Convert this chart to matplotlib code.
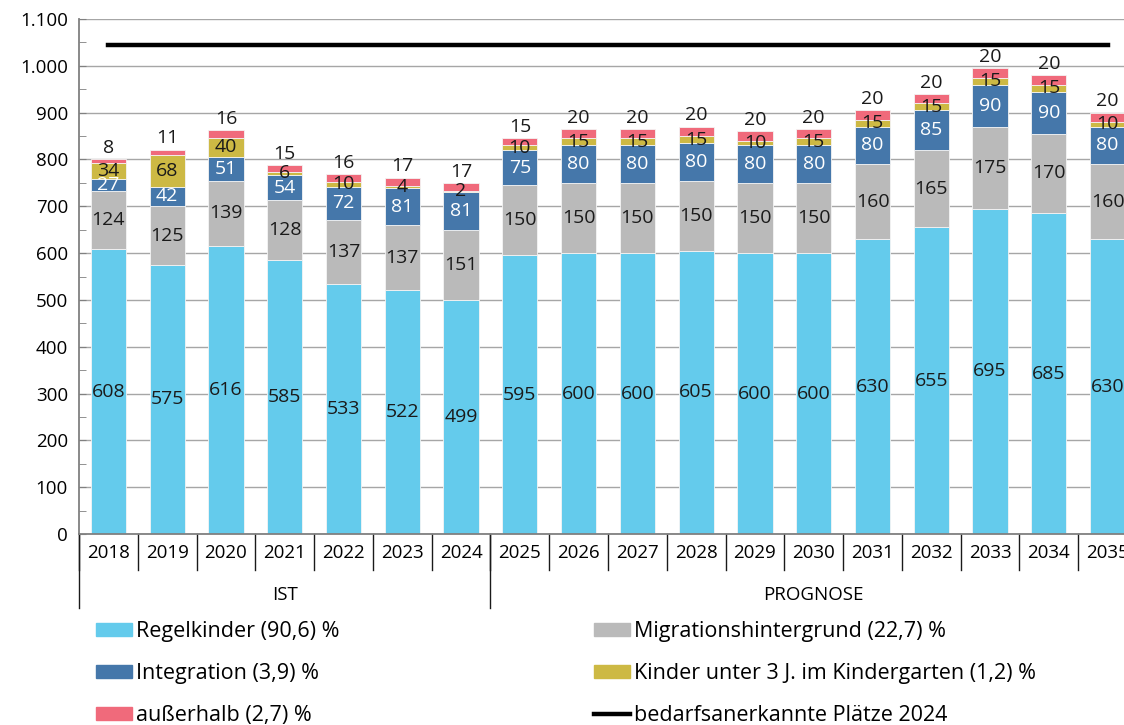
import numpy as np
import matplotlib
matplotlib.use("Agg")
import matplotlib.pyplot as plt
from matplotlib.ticker import MultipleLocator, FuncFormatter
from matplotlib.lines import Line2D
from matplotlib.patches import Patch

plt.rcParams['font.family'] = ['Open Sans', 'DejaVu Sans']

# Daten
years = ['2018', '2019', '2020', '2021', '2022', '2023', '2024', '2025', '2026',
         '2027', '2028', '2029', '2030', '2031', '2032', '2033', '2034', '2035']
regelkinder = [608, 575, 616, 585, 533, 522, 499, 595, 600, 600, 605, 600, 600, 630, 655, 695, 685, 630]
migration = [124, 125, 139, 128, 137, 137, 151, 150, 150, 150, 150, 150, 150, 160, 165, 175, 170, 160]
integration = [27, 42, 51, 54, 72, 81, 81, 75, 80, 80, 80, 80, 80, 80, 85, 90, 90, 80]
unter3 = [34, 68, 40, 6, 10, 4, 2, 10, 15, 15, 15, 10, 15, 15, 15, 15, 15, 10]
ausserhalb = [8, 11, 16, 15, 16, 17, 17, 15, 20, 20, 20, 20, 20, 20, 20, 20, 20, 20]
plaetze_2024 = 1045
groups = ['IST', 'PROGNOSE']
group_sizes = [7, 11]

series = [
    (regelkinder, 'Regelkinder (90,6) %', '#64cbec', '#1a1a1a'),
    (migration, 'Migrationshintergrund (22,7) %', '#bababa', '#1a1a1a'),
    (integration, 'Integration (3,9) %', '#4577aa', 'white'),
    (unter3, 'Kinder unter 3 J. im Kindergarten (1,2) %', '#cdb944', '#1a1a1a'),
    (ausserhalb, 'außerhalb (2,7) %', '#f06a7b', '#1a1a1a'),
]

fig = plt.figure(figsize=(11.24, 7.25), dpi=100)
ax = fig.add_axes([79 / 1124, 1 - 534 / 725, 1058 / 1124, 515 / 725])

x = np.arange(len(years))
bottom = np.zeros(len(years))
for i, (vals, name, col, tcol) in enumerate(series):
    vals = np.array(vals, dtype=float)
    ax.bar(x, vals, 0.6, bottom=bottom, color=col, edgecolor='#f4f4f4', linewidth=0.6, zorder=2)
    for xi, b, v in zip(x, bottom, vals):
        if i == len(series) - 1:
            # Wert über dem Balken
            ax.text(xi, b + v + 5, f'{int(v)}', ha='center', va='bottom', fontsize=14, color=tcol)
        else:
            ax.text(xi, b + v / 2, f'{int(v)}', ha='center', va='center', fontsize=14, color=tcol)
    bottom += vals

# Linie bedarfsanerkannte Plätze
ax.plot([x[0], x[-1]], [plaetze_2024, plaetze_2024], color='black', lw=3.2, zorder=3)

ax.set_ylim(0, 1100)
ax.set_xlim(-0.5, len(years) - 0.5)
ax.yaxis.set_major_locator(MultipleLocator(100))
ax.yaxis.set_minor_locator(MultipleLocator(50))
ax.yaxis.set_major_formatter(FuncFormatter(lambda v, p: f'{int(v):,}'.replace(',', '.')))
ax.tick_params(axis='y', which='both', direction='in', length=5, color='#808080', labelsize=13.5, pad=8)
ax.grid(axis='y', color='#a6a6a6', lw=1, zorder=0)
for s in ['top', 'right']:
    ax.spines[s].set_visible(False)
ax.spines['left'].set_color('#808080')
ax.spines['bottom'].set_color('#808080')
ax.spines['left'].set_linewidth(1.3)
ax.spines['bottom'].set_linewidth(1.3)

# zweistufige x-Achse
ax.set_xticks([])
trans = ax.get_xaxis_transform()
for xi, y in zip(x, years):
    ax.text(xi, -0.037, y, transform=trans, ha='center', va='center', fontsize=13.5, clip_on=False)
for b in np.arange(len(years) + 1) - 0.5:
    ax.plot([b, b], [0, -0.07], transform=trans, color='#1a1a1a', lw=1, clip_on=False)
start = -0.5
for g, n in zip(groups, group_sizes):
    ax.plot([start, start], [0, -0.144], transform=trans, color='#1a1a1a', lw=1, clip_on=False)
    ax.text(start + n / 2, -0.118, g, transform=trans, ha='center', va='center', fontsize=13.5, clip_on=False)
    start += n
ax.plot([start, start], [0, -0.144], transform=trans, color='#1a1a1a', lw=1, clip_on=False)

# Legende
handles = [Patch(color=series[0][2]), Patch(color=series[2][2]), Patch(color=series[4][2]),
           Patch(color=series[1][2]), Patch(color=series[3][2]),
           Line2D([], [], color='black', lw=3.2)]
labels = [series[0][1], series[2][1], series[4][1], series[1][1], series[3][1],
          'bedarfsanerkannte Plätze 2024']
fig.legend(handles, labels, ncol=2, frameon=False, loc='upper left',
           bbox_to_anchor=(96 / 1124, 1 - 621 / 725), fontsize=15.5, handlelength=1.67, handleheight=0.6,
           handletextpad=0.2, columnspacing=11.8, labelspacing=0.98, borderpad=0, borderaxespad=0)

fig.savefig('out.png', dpi=100)
